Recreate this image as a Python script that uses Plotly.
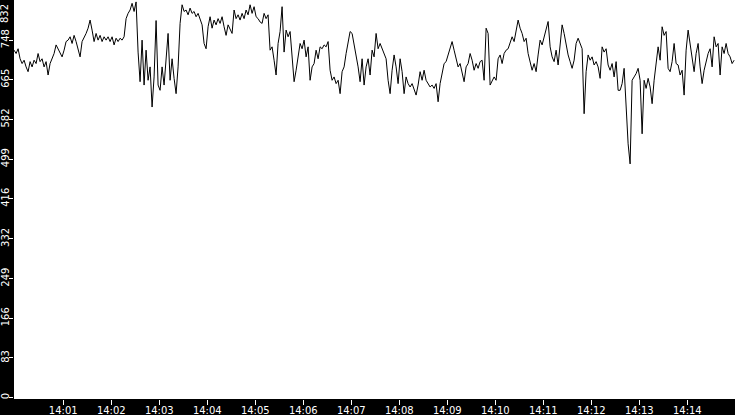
import pandas as pd
import plotly.graph_objects as go

# samples every 2.5 s starting just before 14:00
start = "2024-01-01 13:59:58.5"
step = "2500ms"

seg1 = [727, 720, 730, 709, 699, 706, 692, 682, 703, 692, 706, 699, 720, 703, 709, 692,
        703, 675, 699, 709, 720, 738, 730, 720, 713, 727, 745, 748, 755, 741, 758, 745,
        730, 713, 745, 752, 762, 773, 790, 769, 745, 762, 748, 758, 745, 755, 748, 755,
        745, 755, 738, 752, 745, 752, 748, 755, 793, 804, 811, 825, 808, 828, 723]
seg2 = [661, 748, 654, 727, 664, 692, 608, 671, 789, 654, 643, 692, 654, 720, 762, 664,
        709, 668, 636, 692, 783, 822, 808, 811, 801, 815, 804, 808, 797, 804, 793, 780,
        741, 730, 776, 797, 773, 790, 780, 793, 783, 797, 776, 758, 780, 769, 762, 811,
        793, 801, 790, 804, 793, 811, 801, 822, 804, 818, 797, 793]
seg3 = [786, 783, 804, 793, 801, 727, 734, 706, 675, 741, 766, 818, 723, 769, 755, 766,
        709, 661, 685, 713, 741, 730, 748, 713, 734, 664, 692, 699, 727, 709, 734, 730,
        738, 734, 745, 685, 664, 671, 657, 664, 636, 682, 692, 720, 748, 766, 762, 741,
        713, 692, 661, 709, 654, 692, 709, 675, 727, 713, 762, 730]
seg4 = [741, 730, 720, 709, 664, 636, 685, 717, 692, 657, 709, 682, 636, 671, 657, 650,
        657, 643, 633, 654, 682, 664, 685, 664, 657, 650, 654, 647, 657, 619, 657, 682,
        699, 703, 717, 727, 745, 727, 709, 692, 699, 682, 661, 692, 699, 720, 706, 685,
        699, 689, 703, 706, 664, 773, 762, 654, 661, 671, 664, 709]
seg5 = [717, 699, 720, 727, 730, 741, 755, 745, 769, 790, 773, 762, 745, 752, 720, 699,
        685, 699, 682, 717, 748, 738, 755, 769, 787, 734, 713, 703, 727, 696, 734, 780,
        762, 738, 717, 703, 689, 706, 741, 752, 741, 730, 594, 682, 717, 706, 713, 696,
        703, 692, 668, 734, 723, 730, 696, 685, 699, 671, 703, 643]
seg6 = [643, 657, 689, 601, 531, 489, 664, 671, 678, 689, 664, 552, 664, 647, 668, 650,
        615, 664, 703, 734, 706, 776, 758, 766, 689, 682, 703, 741, 699, 696, 675, 685,
        633, 727, 769, 741, 713, 682, 720, 741, 692, 657, 685, 706, 720, 730, 692, 755,
        734, 741, 675, 734, 720, 741, 720, 713, 699, 706]

values = seg1 + seg2 + seg3 + seg4 + seg5 + seg6
times = pd.date_range(start, periods=len(values), freq=step)

y_ticks = [0, 83, 166, 249, 332, 416, 499, 582, 665, 748]
x_ticks = ["14:%02d" % m for m in range(1, 15)]

fig = go.Figure(go.Scatter(x=times, y=values, mode="lines",
                           line=dict(color="black", width=1), hoverinfo="skip"))

fig.update_layout(
    width=735, height=415,
    margin=dict(l=14, r=0, t=0, b=16, autoexpand=False),
    paper_bgcolor="black", plot_bgcolor="white",
    showlegend=False,
    font=dict(family="DejaVu Sans", size=10, color="white"),
)
fig.update_xaxes(
    range=[pd.Timestamp("2024-01-01 13:59:58.4"), pd.Timestamp("2024-01-01 14:14:59.6")],
    tickvals=pd.date_range("2024-01-01 14:01", periods=len(x_ticks), freq="1min"),
    ticktext=x_ticks,
    ticks="outside", ticklen=5, tickcolor="white", tickwidth=1,
    ticklabelstandoff=-3,
    showgrid=False, zeroline=False, showline=False, automargin=False,
)
fig.update_yaxes(
    range=[-3, 832],
    tickvals=y_ticks, ticktext=[str(v) for v in y_ticks],
    tickangle=-90,
    ticks="outside", ticklen=4, tickcolor="white", tickwidth=1,
    ticklabelstandoff=-4,
    showgrid=False, zeroline=False, showline=False, automargin=False,
)
fig.add_annotation(x=0, xref="paper", y=832, yref="y", text="832", showarrow=False,
                   textangle=-90, xanchor="right", yanchor="top", xshift=-2, yshift=-2,
                   font=dict(color="white", size=10, family="DejaVu Sans"))

# drop the page's default body margin so the figure sits at the top-left corner
fig.write_html("out.html", config={"displayModeBar": False},
               post_script="document.body.style.margin='0';")
